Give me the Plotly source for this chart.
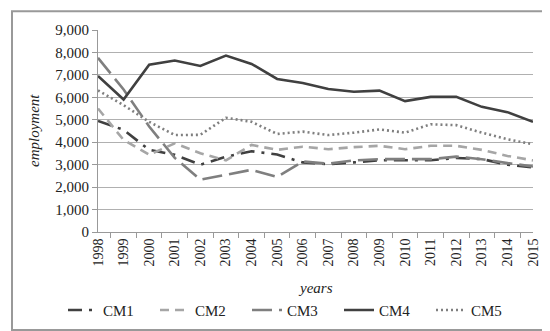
import plotly.graph_objects as go

years = [str(y) for y in range(1998, 2016)]
cm1 = [4950, 4550, 3660, 3440, 3000, 3350, 3600, 3450, 3100, 3020, 3100, 3200, 3200, 3200, 3300, 3250, 3000, 2880]
cm2 = [5500, 4100, 3440, 3950, 3510, 3190, 3880, 3660, 3800, 3690, 3780, 3840, 3690, 3840, 3840, 3660, 3390, 3190]
cm3 = [7760, 6350, 4700, 3300, 2330, 2550, 2770, 2450, 3140, 3040, 3190, 3245, 3245, 3245, 3360, 3245, 3070, 2920]
cm4 = [6950, 5900, 7450, 7640, 7400, 7860, 7490, 6820, 6640, 6370, 6250, 6300, 5830, 6020, 6020, 5575, 5340, 4910]
cm5 = [6310, 5650, 4910, 4320, 4330, 5090, 4910, 4370, 4470, 4320, 4425, 4570, 4425, 4800, 4760, 4425, 4130, 3910]

series = [
    ("CM1", cm1, "#404040", "14px,7px,3px,7px"),
    ("CM2", cm2, "#a6a6a6", "9px,6px"),
    ("CM3", cm3, "#7f7f7f", "20px,7px"),
    ("CM4", cm4, "#404040", "solid"),
    ("CM5", cm5, "#7f7f7f", "2px,3px"),
]

fig = go.Figure()
for name, vals, col, dash in series:
    fig.add_trace(go.Scatter(x=years, y=vals, name=name, mode="lines",
                             line=dict(color=col, width=2.6, dash=dash)))

font = "Liberation Serif, DejaVu Serif, serif"
L, R, T, B = 90, 525, 22, 226
W, H = R - L, B - T

def px(x):
    return (x - L) / W

def py(y):
    return (B - y) / H

fig.update_layout(
    width=550, height=331,
    margin=dict(l=L, r=550 - R, t=T, b=331 - B),
    paper_bgcolor="white", plot_bgcolor="white",
    font=dict(family=font, size=14, color="#222"),
    showlegend=True,
    legend=dict(orientation="h", x=px(55), xanchor="left", y=py(305), yanchor="middle",
                font=dict(size=15), entrywidth=47, entrywidthmode="pixels",
                tracegroupgap=0, bgcolor="rgba(0,0,0,0)"),
    xaxis=dict(type="category", tickangle=-90, ticks="outside", tickson="boundaries",
               ticklen=5, tickcolor="#999", showline=True, linecolor="#999",
               showgrid=False, tickfont=dict(size=14), automargin=False),
    yaxis=dict(range=[0, 9000], dtick=1000, tickformat=",d", showgrid=True,
               gridcolor="#b0b0b0", gridwidth=1, showline=True, linecolor="#999",
               ticks="outside", ticklen=5, tickcolor="#999", zeroline=False,
               tickfont=dict(size=15), automargin=False),
    annotations=[
        dict(text="<i>years</i>", xref="paper", yref="paper", x=0.5, y=py(283),
             xanchor="center", yanchor="middle", showarrow=False, font=dict(size=15)),
        dict(text="<i>employment</i>", xref="paper", yref="paper", x=px(26), y=py(124),
             xanchor="center", yanchor="middle", showarrow=False, textangle=-90,
             font=dict(size=15)),
    ],
    shapes=[dict(type="rect", xref="paper", yref="paper",
                 x0=px(4), x1=px(544), y0=py(325), y1=py(3),
                 line=dict(color="#999", width=2), fillcolor="rgba(0,0,0,0)", layer="below")],
)

fig.write_html("out.html")
